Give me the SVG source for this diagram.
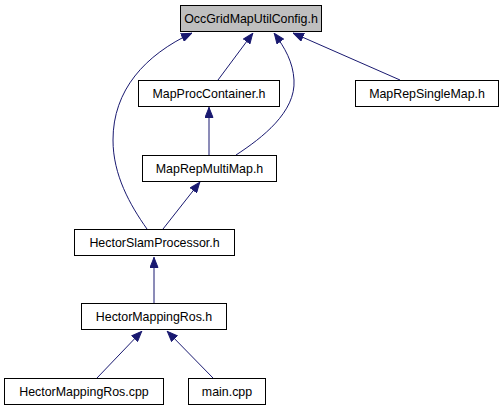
<svg xmlns="http://www.w3.org/2000/svg" width="503" height="411" viewBox="0 0 503 411">
<style>
.n rect{fill:#fff;stroke:#000;stroke-width:1}
.n.root rect{fill:#bfbfbf}
.n text{font-family:"Liberation Sans",Arial,sans-serif;font-size:12.4px;text-anchor:middle;fill:#000}
.e path{fill:none;stroke:#191970;stroke-width:1}
</style>
<defs>
<marker id="ah" viewBox="0 0 11 9" refX="11" refY="4.5" markerWidth="11" markerHeight="9" markerUnits="userSpaceOnUse" orient="auto">
<path d="M0.5,0.5 L10.5,4.5 L0.5,8.5 Z" fill="#191970" stroke="#191970" stroke-width="1"/>
</marker>
</defs>
<rect width="503" height="411" fill="#fff"/>
<g id="edges" class="e">
<path d="M218,80 L253,33" marker-end="url(#ah)"/>
<path d="M400,80 L293,33" marker-end="url(#ah)"/>
<path d="M209,155 L209,107" marker-end="url(#ah)"/>
<path d="M236,155 C262,138 296,112 294,80 C293,62 285,48 274,33" marker-end="url(#ah)"/>
<path d="M147,229 C130,205 113,175 113,140 C113,90 145,55 192,33" marker-end="url(#ah)"/>
<path d="M163,229 L200,182" marker-end="url(#ah)"/>
<path d="M154,303 L154,257" marker-end="url(#ah)"/>
<path d="M97,378 L142,331" marker-end="url(#ah)"/>
<path d="M213,378 L167,331" marker-end="url(#ah)"/>
</g>
<g id="n_root" class="n root"><rect x="180.5" y="5.5" width="141" height="26"/><text x="251" y="23">OccGridMapUtilConfig.h</text></g>
<g id="n_mpc" class="n"><rect x="138.5" y="80.5" width="141" height="26"/><text x="209" y="98">MapProcContainer.h</text></g>
<g id="n_mrsm" class="n"><rect x="355.5" y="80.5" width="143" height="26"/><text x="427" y="98">MapRepSingleMap.h</text></g>
<g id="n_mrmm" class="n"><rect x="142.5" y="155.5" width="134" height="26"/><text x="209.5" y="173">MapRepMultiMap.h</text></g>
<g id="n_hsp" class="n"><rect x="74.5" y="229.5" width="160" height="26"/><text x="154.5" y="247">HectorSlamProcessor.h</text></g>
<g id="n_hmr" class="n"><rect x="81.5" y="303.5" width="145" height="26"/><text x="154" y="321">HectorMappingRos.h</text></g>
<g id="n_hmrcpp" class="n"><rect x="4.5" y="378.5" width="159" height="26"/><text x="84" y="396">HectorMappingRos.cpp</text></g>
<g id="n_main" class="n"><rect x="188.5" y="378.5" width="77" height="26"/><text x="227" y="396">main.cpp</text></g>
</svg>
